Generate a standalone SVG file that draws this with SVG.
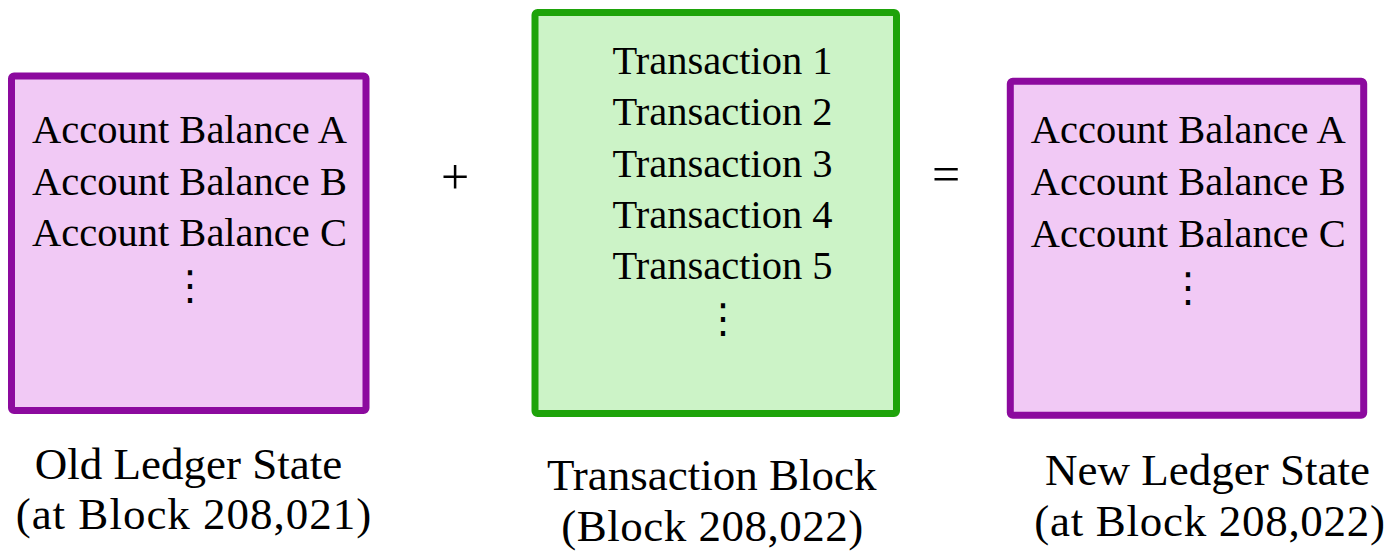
<svg xmlns="http://www.w3.org/2000/svg" width="1392" height="552" viewBox="0 0 1392 552">
<style>
.ledger{fill:#f1c9f5;stroke:#8c0a9e;stroke-width:7}
.block{fill:#ccf3c7;stroke:#1ea30a;stroke-width:7}
.t{font-family:'Liberation Serif',serif;font-size:40.5px;text-anchor:middle;fill:#000}
.lbl{font-family:'Liberation Serif',serif;font-size:45px;text-anchor:middle;fill:#000}
.op{font-family:'Liberation Serif',serif;font-size:50px;text-anchor:middle;fill:#000}
.vd{font-family:'DejaVu Sans',sans-serif;font-size:40px;text-anchor:middle;fill:#000}
</style>
<rect width="1392" height="552" fill="#fff"/>
<g id="old-ledger">
<rect class="ledger" x="11.5" y="76" width="354.5" height="334.5" rx="2.5"/>
<text class="t" x="189.5" y="143">Account Balance A</text>
<text class="t" x="189.5" y="194.5">Account Balance B</text>
<text class="t" x="189.5" y="246">Account Balance C</text>
<text class="vd" x="190" y="299">⋮</text>
<text class="lbl" x="188.5" y="478.5">Old Ledger State</text>
<text class="lbl" x="194" y="528.5" letter-spacing="1">(at Block 208,021)</text>
</g>
<g id="tx-block">
<rect class="block" x="535" y="12.5" width="361.5" height="401" rx="2.5"/>
<text class="t" x="722.5" y="73.5">Transaction 1</text>
<text class="t" x="722.5" y="125">Transaction 2</text>
<text class="t" x="722.5" y="176.5">Transaction 3</text>
<text class="t" x="722.5" y="228">Transaction 4</text>
<text class="t" x="722.5" y="278.5">Transaction 5</text>
<text class="vd" x="723" y="332">⋮</text>
<text class="lbl" x="711.7" y="489.5">Transaction Block</text>
<text class="lbl" x="712.5" y="541" letter-spacing="0.5">(Block 208,022)</text>
</g>
<g id="new-ledger">
<rect class="ledger" x="1010.3" y="81.3" width="353.4" height="334" rx="2.5"/>
<text class="t" x="1188.3" y="143.3">Account Balance A</text>
<text class="t" x="1188.3" y="195">Account Balance B</text>
<text class="t" x="1188.3" y="246.5">Account Balance C</text>
<text class="vd" x="1188" y="300.5">⋮</text>
<text class="lbl" x="1207.5" y="485">New Ledger State</text>
<text class="lbl" x="1210" y="536" letter-spacing="0.7">(at Block 208,022)</text>
</g>
<g id="connectors">
<text id="plus" class="op" x="455" y="194">+</text>
<text id="equals" class="op" x="946" y="191">=</text>
</g>
</svg>
